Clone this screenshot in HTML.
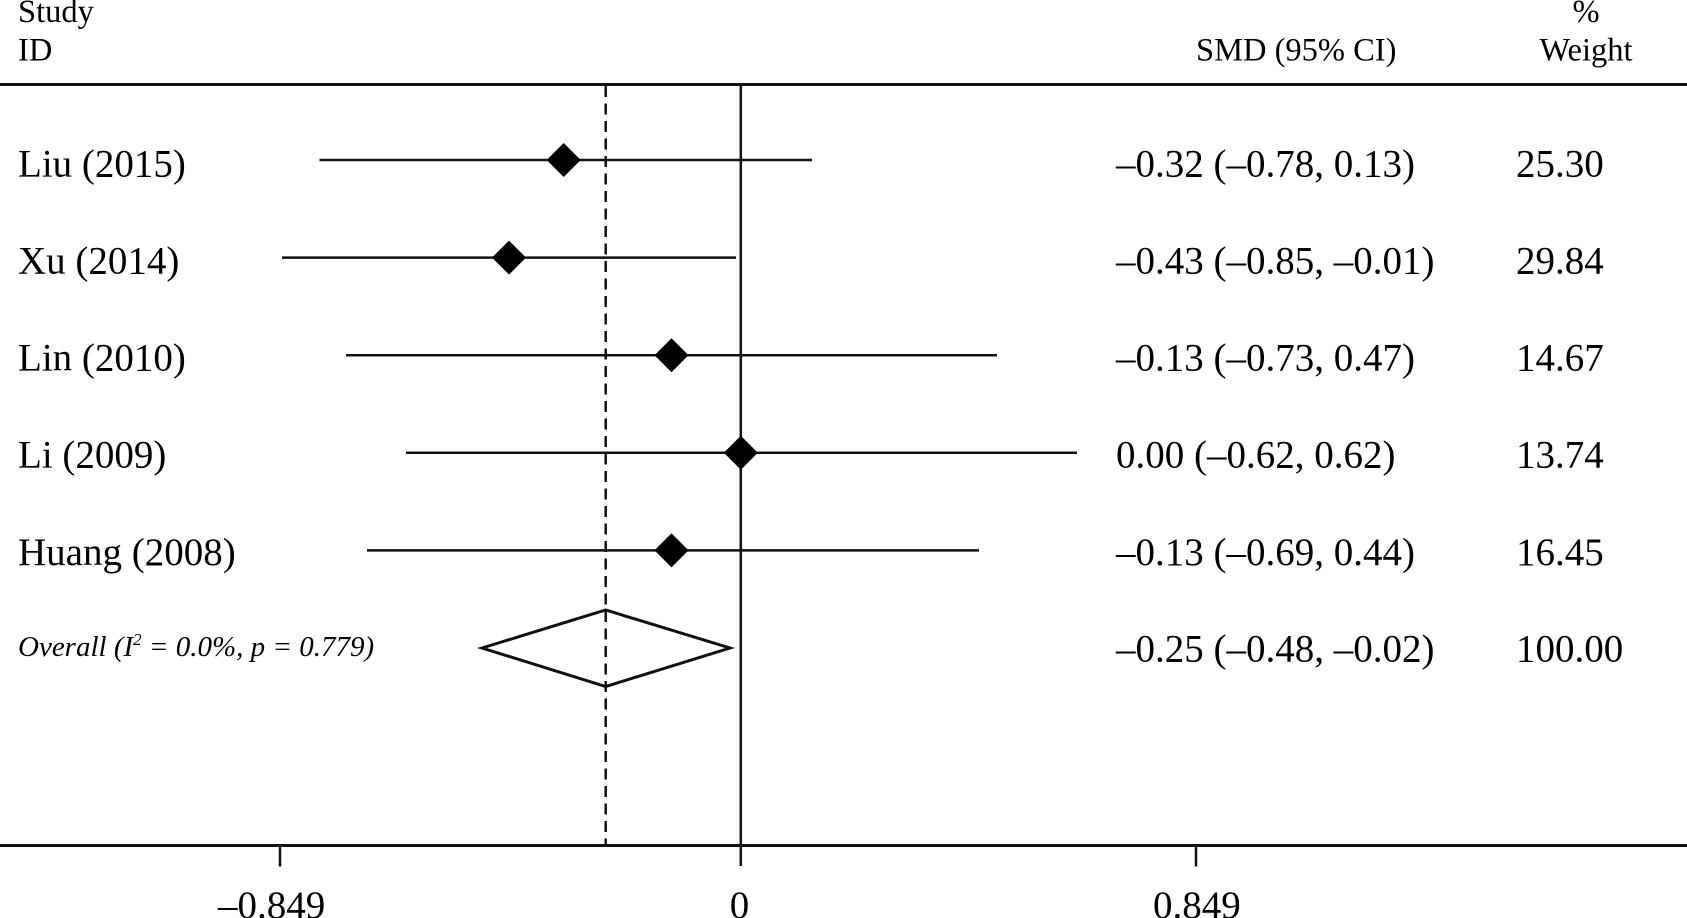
<!DOCTYPE html>
<html>
<head>
<meta charset="utf-8">
<style>
html,body{margin:0;padding:0;background:#fff;}
svg{display:block;}
text{font-family:"Liberation Serif","Times New Roman",serif;fill:#000;}
</style>
</head>
<body>
<svg width="1687" height="918" viewBox="0 0 1687 918" xmlns="http://www.w3.org/2000/svg">
  <!-- header -->
  <text x="18" y="22" font-size="32.5">Study</text>
  <text x="18" y="60.5" font-size="32.5">ID</text>
  <text x="1196" y="60.5" font-size="32.5">SMD (95% CI)</text>
  <text x="1586" y="22" font-size="32.5" text-anchor="middle">%</text>
  <text x="1586" y="60.5" font-size="32.5" text-anchor="middle">Weight</text>

  <!-- top rule -->
  <line x1="0" y1="84.5" x2="1687" y2="84.5" stroke="#111" stroke-width="3"/>

  <!-- dashed overall line -->
  <line x1="605.7" y1="86" x2="605.7" y2="845" stroke="#111" stroke-width="2.5" stroke-dasharray="11 6.5"/>
  <!-- null line -->
  <line x1="740.8" y1="84" x2="740.8" y2="866" stroke="#111" stroke-width="2.5"/>

  <!-- CI lines -->
  <g stroke="#111" stroke-width="2.5">
    <line x1="319.5" y1="160" x2="812" y2="160"/>
    <line x1="282" y1="257.6" x2="736" y2="257.6"/>
    <line x1="346" y1="355.2" x2="997" y2="355.2"/>
    <line x1="406" y1="452.8" x2="1077" y2="452.8"/>
    <line x1="367" y1="550.4" x2="979" y2="550.4"/>
  </g>
  <!-- point estimates -->
  <g fill="#000">
    <polygon points="563.7,143 580.7,160 563.7,177 546.7,160"/>
    <polygon points="509,240.6 526,257.6 509,274.6 492,257.6"/>
    <polygon points="671.5,338.2 688.5,355.2 671.5,372.2 654.5,355.2"/>
    <polygon points="740.8,435.8 757.8,452.8 740.8,469.8 723.8,452.8"/>
    <polygon points="671.5,533.4 688.5,550.4 671.5,567.4 654.5,550.4"/>
  </g>
  <!-- overall diamond -->
  <polygon points="482,648 605.7,610 730,648 605.7,686.5" fill="none" stroke="#111" stroke-width="3" stroke-linejoin="miter"/>

  <!-- study labels -->
  <g font-size="39">
    <text x="18" y="176.7">Liu (2015)</text>
    <text x="18" y="273.3">Xu (2014)</text>
    <text x="18" y="370.7">Lin (2010)</text>
    <text x="18" y="467.4">Li (2009)</text>
    <text x="18" y="564.9">Huang (2008)</text>
  </g>
  <text x="18" y="656" font-size="29" font-style="italic">Overall (I<tspan font-size="17" dy="-11">2</tspan><tspan dy="11"> = 0.0%, p = 0.779)</tspan></text>

  <!-- SMD column -->
  <g font-size="39">
    <text x="1116" y="176.7">–0.32 (–0.78, 0.13)</text>
    <text x="1116" y="273.3">–0.43 (–0.85, –0.01)</text>
    <text x="1116" y="370.7">–0.13 (–0.73, 0.47)</text>
    <text x="1116" y="467.4">0.00 (–0.62, 0.62)</text>
    <text x="1116" y="564.9">–0.13 (–0.69, 0.44)</text>
    <text x="1116" y="661.4">–0.25 (–0.48, –0.02)</text>
  </g>
  <!-- weight column -->
  <g font-size="39">
    <text x="1516" y="176.7">25.30</text>
    <text x="1516" y="273.3">29.84</text>
    <text x="1516" y="370.7">14.67</text>
    <text x="1516" y="467.4">13.74</text>
    <text x="1516" y="564.9">16.45</text>
    <text x="1516" y="661.4">100.00</text>
  </g>

  <!-- x axis -->
  <line x1="0" y1="845.5" x2="1687" y2="845.5" stroke="#111" stroke-width="3"/>
  <g stroke="#111" stroke-width="2.5">
    <line x1="280" y1="845" x2="280" y2="866.5"/>
    <line x1="1196" y1="845" x2="1196" y2="866.5"/>
  </g>
  <g font-size="39">
    <text x="218" y="918">–0.849</text>
    <text x="739.5" y="918" text-anchor="middle">0</text>
    <text x="1153" y="918">0.849</text>
  </g>
</svg>
</body>
</html>
